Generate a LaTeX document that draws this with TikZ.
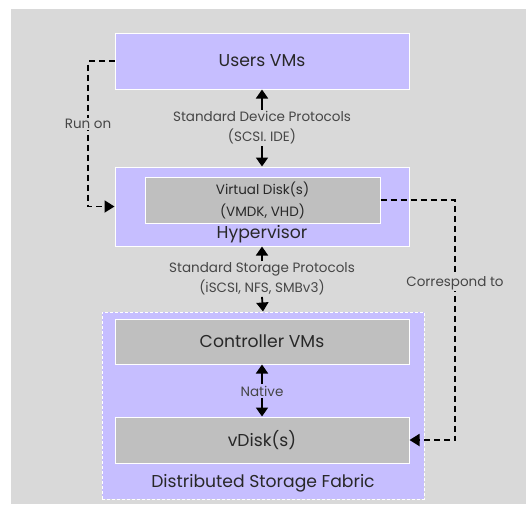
\documentclass[tikz,border=0pt]{standalone}
\usepackage{fontspec}
\setmainfont{Poppins}
\usetikzlibrary{arrows.meta}
\definecolor{bgc}{RGB}{217,217,217}
\definecolor{lav}{RGB}{198,190,255}
\definecolor{gbox}{RGB}{191,191,191}
\definecolor{txt}{RGB}{40,40,40}
\definecolor{stxt}{RGB}{70,70,70}
\tikzset{
  lavbox/.style={draw=white, line width=1pt, fill=lav, inner sep=0pt, font=\fontsize{17.2}{20}\selectfont, text=txt},
  graybox/.style={draw=white, line width=1pt, fill=gbox, inner sep=0pt, font=\fontsize{17.2}{20}\selectfont, text=txt},
  small/.style={font=\fontsize{13.5}{20}\selectfont, text=stxt, align=center, inner sep=1.5pt},
  big/.style={font=\fontsize{17.2}{20}\selectfont, text=txt, inner sep=0pt},
  solidarrow/.style={line width=1.8pt, -{Triangle[length=9pt,width=12pt]}},
  dasharrow/.style={line width=1.8pt, dash pattern=on 6pt off 4pt, -{Triangle[length=10pt,width=12pt]}},
}
\begin{document}
\begin{tikzpicture}[x=1pt,y=-1pt]
\useasboundingbox (0,0) rectangle (526,504);
\fill[bgc] (11,9) rectangle (526,504);
% fabric
\node[draw=white, line width=1pt, dash pattern=on 3pt off 2pt, fill=lav, minimum width=322pt, minimum height=187pt, inner sep=0pt] (fabric) at (263,405.5) {};
% boxes
\node[lavbox, minimum width=294pt, minimum height=56pt] (users) at (262,61) {Users VMs};
\node[lavbox, minimum width=294pt, minimum height=79pt] (hyp) at (262,206.5) {};
\node[graybox, minimum width=235pt, minimum height=46pt, font=\fontsize{13.5}{22}\selectfont, align=center] (vd) at (262.5,200) {Virtual Disk(s)\\(VMDK, VHD)};
\node[big] (hyplbl) at (262,234) {Hypervisor};
\node[graybox, minimum width=294pt, minimum height=45pt] (ctrl) at (262,341.5) {Controller VMs};
\node[graybox, minimum width=294pt, minimum height=46pt] (vdisk) at (262,440) {vDisk(s)};
\node[big] (dsf) at (263,483) {Distributed Storage Fabric};
% protocol labels
\node[small] (sdp) at (262,128) {Standard Device Protocols\\(SCSI. IDE)};
\node[small] (ssp) at (262,279) {Standard Storage Protocols\\(iSCSI, NFS, SMBv3)};
\node[small] (nat) at (262,391) {Native};
\draw[solidarrow] (sdp.north) -- (users.south);
\draw[solidarrow] (sdp.south) -- (hyp.north);
\draw[solidarrow] (ssp.north) -- (hyp.south);
\draw[solidarrow] (ssp.south) -- (fabric.north);
\draw[solidarrow] (nat.north) -- (ctrl.south);
\draw[solidarrow] (nat.south) -- (vdisk.north);
% run on
\coordinate (rx) at (88,0);
\draw[dasharrow] (users.west) -- (users.west -| rx) -- (hyp.west -| rx) -- (hyp.west);
\node[small, fill=bgc, inner sep=1pt] (runon) at (88,124) {Run on};
% correspond to
\coordinate (cx) at (455,0);
\draw[dasharrow] (vd.east) -- (vd.east -| cx) -- (vdisk.east -| cx) -- (vdisk.east);
\node[small, fill=bgc, inner sep=1pt] (corr) at (455,283) {Correspond to};
\end{tikzpicture}
\end{document}
